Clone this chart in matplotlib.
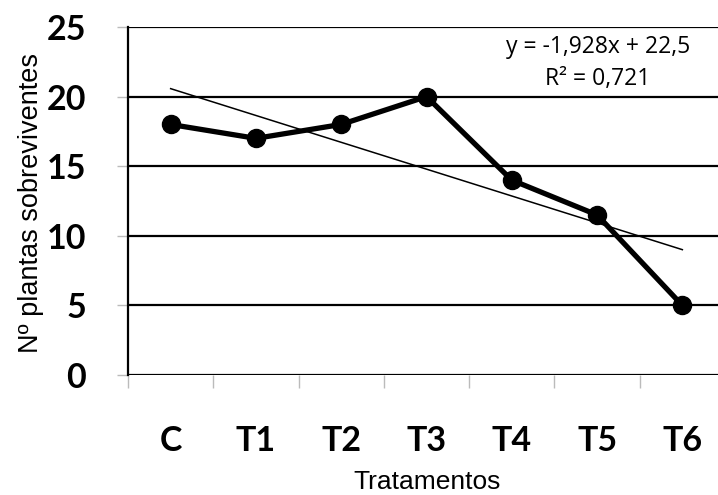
import matplotlib
matplotlib.use("Agg")
import matplotlib.pyplot as plt
import numpy as np

categories = ["C", "T1", "T2", "T3", "T4", "T5", "T6"]
values = [18, 17, 18, 20, 14, 11.5, 5]
slope, intercept = -1.928, 22.5
yticks = [0, 5, 10, 15, 20, 25]

W, H = 718, 495
fig = plt.figure(figsize=(W / 100, H / 100), dpi=100)
left, right, top, bottom = 128, 725, 27, 375
ax = fig.add_axes([left / W, 1 - bottom / H, (right - left) / W, (bottom - top) / H])

x = np.arange(len(categories))
ax.plot(x, values, color="black", lw=3.8, marker="o", ms=13, zorder=4)
xt = np.arange(1, len(categories) + 1)
ax.plot(x, slope * xt + intercept, color="black", lw=1.1, zorder=3)

ax.set_xlim(-0.5, len(categories) - 0.5)
ax.set_ylim(0, 25)
ax.set_yticks(yticks)
for yv in yticks:
    ax.axhline(yv, color="black", lw=1.6, zorder=2)

for s in ["top", "right", "bottom"]:
    ax.spines[s].set_visible(False)
ax.spines["left"].set_linewidth(1.6)

ax.set_xticks(x)
ax.set_xticklabels(categories, fontfamily="Lato", fontweight="bold", fontsize=24.5)
ax.tick_params(axis="x", which="major", length=0, pad=36)
ax.set_xticks(np.arange(-0.5, len(categories)), minor=True)
ax.tick_params(axis="x", which="minor", length=9, color="#bbbbbb", width=1)
ax.tick_params(axis="y", length=8, color="#bbbbbb", width=1, pad=22)
for lab in ax.get_yticklabels():
    lab.set_fontfamily("Lato")
    lab.set_fontweight("bold")
    lab.set_fontsize(24.5)

fig.text(427 / W, 1 - 482 / H, "Tratamentos", ha="center", va="center",
         fontfamily="Liberation Sans", fontsize=19)
fig.text(31 / W, 1 - 203 / H, "Nº plantas sobreviventes", ha="center", va="center",
         rotation=90, fontfamily="Liberation Sans", fontsize=19.5)

fig.text(598 / W, 1 - 47 / H, "y = -1,928x + 22,5", ha="center", va="center",
         fontfamily="Open Sans", fontsize=16.5)
fig.text(598 / W, 1 - 79 / H, "R² = 0,721", ha="center", va="center",
         fontfamily="Open Sans", fontsize=16.5)

fig.savefig("out.png", dpi=100)
